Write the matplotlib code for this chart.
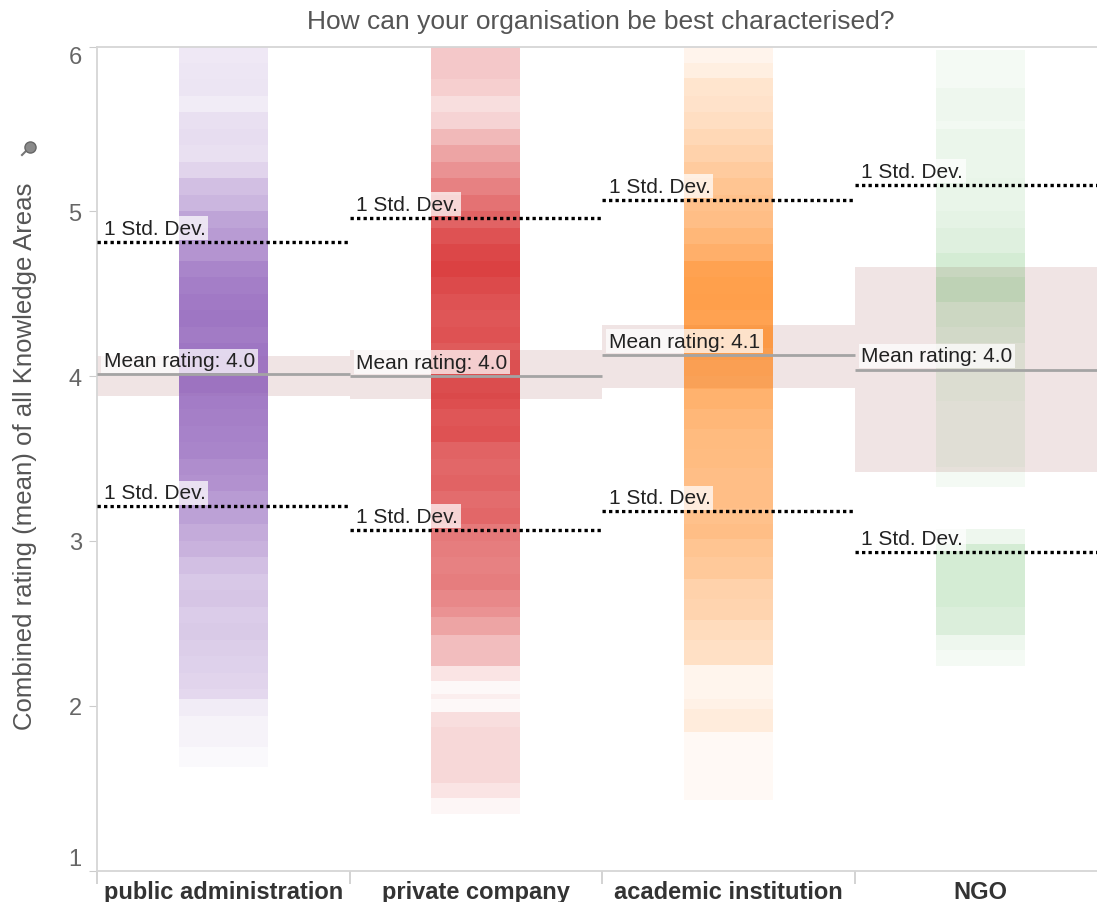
import matplotlib
matplotlib.use("Agg")
import matplotlib.pyplot as plt
from matplotlib.colors import to_rgba
from matplotlib.lines import Line2D
import numpy as np

plt.rcParams['font.family'] = ['Liberation Sans', 'DejaVu Sans']

# ---------------- data ----------------
categories = ["public administration", "private company", "academic institution", "NGO"]
colors = ["#9467bd", "#d62728", "#ff7f0e", "#2ca02c"]

# stripe boundaries (top -> bottom) and opacity of each stripe
pa_edges = [6.0, 5.9, 5.8, 5.7, 5.6, 5.5, 5.4, 5.3, 5.2, 5.1, 5.0, 4.9, 4.8, 4.7, 4.6,
            4.5, 4.4, 4.3, 4.2, 4.1, 4.0, 3.9, 3.8, 3.7, 3.6, 3.5, 3.4, 3.3, 3.2, 3.1,
            3.0, 2.9, 2.8, 2.7, 2.6, 2.5, 2.4, 2.3, 2.2, 2.1, 2.04, 1.94, 1.75, 1.63]
pa_opacity = [.15, .16, .17, .12, .2, .22, .2, .28, .42, .48,
              .6, .66, .7, .8, .85, .88, .9, .87, .9, .88,
              .9, .86, .84, .82, .8, .75, .72, .66, .62, .55,
              .5, .42, .36, .38, .33, .35, .32, .3, .28, .25,
              .12, .08, .04]

pc_edges = [6.0, 5.9, 5.8, 5.7, 5.6, 5.5, 5.4, 5.3, 5.2, 5.1, 5.0, 4.9, 4.8, 4.7, 4.6,
            4.5, 4.4, 4.3, 4.2, 4.1, 4.0, 3.9, 3.8, 3.7, 3.6, 3.5, 3.4, 3.3, 3.2, 3.1,
            3.0, 2.9, 2.8, 2.7, 2.6, 2.54, 2.43, 2.24, 2.15, 2.07, 2.04, 1.96, 1.87,
            1.53, 1.44, 1.34]
pc_opacity = [.25, .25, .22, .15, .2, .32, .42, .5, .58, .65,
              .72, .8, .85, .88, .84, .8, .78, .8, .76, .78,
              .8, .82, .78, .8, .72, .7, .72, .68, .7, .62,
              .6, .58, .6, .55, .5, .42, .3, .12, .03, .08,
              .03, .15, .18, .12, .04]

ai_edges = [6.0, 5.9, 5.81, 5.7, 5.6, 5.5, 5.4, 5.3, 5.2, 5.1, 5.0, 4.9, 4.8, 4.7,
            4.6, 4.5, 4.4, 4.3, 4.17, 4.1, 4.0, 3.92, 3.8, 3.68, 3.56, 3.44, 3.32,
            3.2, 3.1, 3.01, 2.9, 2.77, 2.65, 2.52, 2.4, 2.25, 2.04, 1.98, 1.84, 1.43]
ai_opacity = [.08, .12, .2, .22, .25, .3, .35, .4, .45, .48,
              .5, .56, .62, .72, .74, .75, .72, .74, .7, .68,
              .66, .6, .56, .53, .52, .5, .5, .48, .5, .45,
              .42, .35, .33, .27, .24, .07, .1, .14, .04]

ngo_edges = [5.98, 5.75, 5.55, 5.5, 5.2, 5.0, 4.9, 4.75, 4.6, 4.45, 4.3, 4.2, 3.85,
             3.45, 3.33, 3.07, 2.98, 2.6, 2.43, 2.34, 2.24]
ngo_opacity = [.05, .08, .06, .09, .1, .12, .15, .2, .25, .18,
               .15, .1, .08, .05, 0, .08, .2, .17, .08, .05]

means = [4.01, 4.00, 4.13, 4.04]
band_low = [3.88, 3.86, 3.93, 3.42]
band_high = [4.12, 4.16, 4.31, 4.66]
sd_high = [4.815, 4.96, 5.07, 5.16]
sd_low = [3.21, 3.066, 3.18, 2.93]

stripes = [(pa_edges, pa_opacity), (pc_edges, pc_opacity),
           (ai_edges, ai_opacity), (ngo_edges, ngo_opacity)]

# ---------------- figure ----------------
W, H = 1097, 903
fig = plt.figure(figsize=(W / 100, H / 100), dpi=100)
ax = fig.add_axes([97 / W, 1 - 871.5 / H, 1010 / W, 824 / H])
ax.set_xlim(-0.5, 3.5)
ax.set_ylim(1, 6)

for i in range(len(categories)):
    ax.fill_between([i - 0.5, i + 0.5], band_low[i], band_high[i],
                    color='#f0e4e4', lw=0, zorder=1)

bar_width = 0.353
for i, (edges, op) in enumerate(stripes):
    e = np.array(edges, dtype=float)
    tops, bots = e[:-1], e[1:]
    cols = [to_rgba(colors[i], a) for a in op]
    ax.bar(np.full(len(op), i), tops - bots, bottom=bots, width=bar_width,
           color=cols, linewidth=0, zorder=2)

label_box = dict(boxstyle='square,pad=0.12', fc='white', ec='none', alpha=0.72)
for i in range(len(categories)):
    ax.plot([i - 0.5, i + 0.5], [means[i]] * 2, color='#a4a4a4', lw=2.0,
            solid_capstyle='butt', zorder=3)
    for s in (sd_high[i], sd_low[i]):
        ax.plot([i - 0.5, i + 0.5], [s, s], color='black', lw=2.4,
                linestyle=(0, (1, 0.95)), zorder=3)
        ax.annotate("1 Std. Dev.", xy=(i - 0.5, s), xytext=(5, 3),
                    textcoords='offset points', ha='left', va='bottom',
                    fontsize=15, color='#222222', bbox=label_box, zorder=4)
    ax.annotate(f"Mean rating: {means[i]:.1f}", xy=(i - 0.5, means[i]),
                xytext=(5, 3), textcoords='offset points', ha='left', va='bottom',
                fontsize=15, color='#222222', bbox=label_box, zorder=4)

# spines
for side in ('left', 'top', 'bottom'):
    ax.spines[side].set_color('#d6d6d6')
    ax.spines[side].set_linewidth(1.3)
ax.spines['right'].set_visible(False)

# y axis
ax.set_yticks([1, 2, 3, 4, 5, 6])
ax.set_yticklabels(['1', '2', '3', '4', '5', '6'])
ax.tick_params(axis='y', which='major', length=6, color='#cccccc',
               labelsize=17, labelcolor='#666666', pad=5)
for t in ax.yaxis.get_major_ticks():
    txt = t.label1.get_text()
    if txt == '6':
        t.label1.set_va('top')
    elif txt == '1':
        t.label1.set_va('bottom')

# x axis
ax.set_xticks([-0.5, 0.5, 1.5, 2.5, 3.5])
ax.set_xticklabels([])
ax.tick_params(axis='x', which='major', length=9, color='#cccccc', width=1.2)
ax.set_xticks([0, 1, 2, 3], minor=True)
ax.set_xticklabels(categories, minor=True, fontsize=17, fontweight='bold',
                   color='#333333')
ax.tick_params(axis='x', which='minor', length=0, pad=7)

fig.text(601 / W, 1 - 22 / H, "How can your organisation be best characterised?",
         ha='center', va='center', fontsize=19, color='#555555')
fig.text(25 / W, 1 - 456 / H, "Combined rating (mean) of all Knowledge Areas",
         rotation=90, ha='center', va='center', fontsize=18.5, color='#555555')

# small pin icon next to the axis title
fig.add_artist(Line2D([22 / W, 28 / W], [1 - 156 / H, 1 - 150 / H], color='#777777',
                      lw=1.5, transform=fig.transFigure))
fig.add_artist(Line2D([30 / W], [1 - 148 / H], marker='o', ms=8, color='#8a8a8a',
                      mec='#666666', transform=fig.transFigure))

fig.savefig('out.png', dpi=100)
